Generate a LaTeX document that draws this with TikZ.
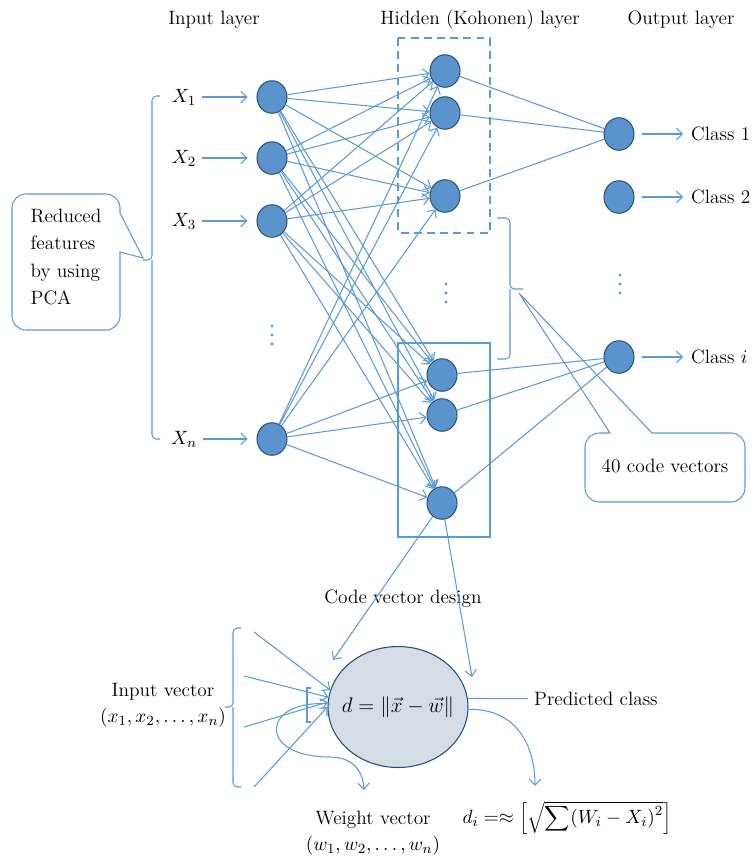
\documentclass[tikz,border=0pt]{standalone}
\usetikzlibrary{arrows.meta,shapes.geometric}
\definecolor{netline}{RGB}{91,155,213}
\definecolor{netfill}{RGB}{91,148,204}
\definecolor{netedge}{RGB}{41,82,125}
\definecolor{ellfill}{RGB}{214,220,229}
\definecolor{elledge}{RGB}{31,78,121}
\begin{document}
\begin{tikzpicture}[x=0.02cm,y=-0.02cm,font=\fontsize{11}{13}\selectfont,
    link/.style={draw=netline,line width=0.6pt},
    arrow line/.style={link,-{Straight Barb[length=3.5pt,width=6.5pt]}},
    neuron/.style={ellipse,draw=netedge,fill=netfill,line width=0.6pt,inner sep=0pt,minimum width=0.6cm,minimum height=0.65cm},
    bracket/.style={link,rounded corners=2.5pt},
    twoline/.style={align=center,font=\fontsize{11}{14.7}\selectfont}]
    \useasboundingbox (0,0) rectangle (751,859);
    \node (lin) at (214,20) {Input layer};
    \node (lhid) at (480,20) {Hidden (Kohonen) layer};
    \node (lout) at (681,20) {Output layer};
    \foreach \n/\y/\t in {1/97/1,2/158/2,3/221/3,4/439/n} {
        \node[neuron] (i\n) at (272,\y) {};
        \node (x\n) at (184,\y) {$X_\t$};
        \draw[arrow line,shorten >=5pt] (x\n) -- (i\n);
    }
    \foreach \n/\x/\y in {1/445/71,2/445/113,3/445/196,4/442/375,5/442/415,6/442/503}
        \node[neuron] (h\n) at (\x,\y) {};
    \foreach \n/\y/\t in {1/134/1,2/197/2,3/357/$i$} {
        \node[neuron] (o\n) at (619,\y) {};
        \node[right] (c\n) at (685,\y) {Class \t};
        \draw[arrow line,shorten <=4pt,shorten >=1pt] (o\n) -- (c\n);
    }
    \foreach \i in {1,...,4}
        \foreach \h in {1,...,6}
            \draw[arrow line] (i\i) -- (h\h);
    \foreach \h in {1,2,3} \draw[link] (h\h) -- (o1);
    \foreach \h in {4,5,6} \draw[link] (h\h) -- (o3);
    \foreach \x/\y in {272/335,446/293,620/284}
        \foreach \d in {-9,0,9}
            \fill[netline] (\x,\y+\d) circle (0.9pt);
    \draw[link,dashed,dash pattern=on 4.5pt off 3pt] (398,38) rectangle (490,233);
    \draw[link] (398,343) rectangle (490,537);
    \draw[bracket] (497,218) -| (510,289) -- (523,289) (510,289) |- (497,359);
    \draw[bracket] (160,96) -| (152,260) -- (143,260) (152,260) |- (160,439);
    \node[align=left,font=\fontsize{11}{15.4}\selectfont] (pca) at (66,257) {Reduced\\features\\by using\\PCA};
    \draw[link,rounded corners=8pt] (120,213) -- (120,194) -- (12,194) -- (12,330) -- (120,330) [sharp corners] -- (120,252) -- (143,258) -- cycle;
    \node (cvec) at (665,466) {40 code vectors};
    \draw[link,rounded corners=8pt] (610,433) -- (585,433) -- (585,502) -- (745,502) -- (745,433) [sharp corners] -- (652,433) -- (519,293) -- cycle;
    \node (cvd) at (403,599) {Code vector design};
    \node[ellipse,draw=elledge,fill=ellfill,line width=0.6pt,inner sep=0pt,minimum width=2.8cm,minimum height=2.42cm] (ell) at (398,707) {};
    \node[font=\fontsize{12}{14}\selectfont] (dist) at (ell) {$d=\|\vec{x}-\vec{w}\|$};
    \coordinate (t1) at (333,660);
    \coordinate (t2) at (472,677);
    \draw[arrow line] (h6) -- (t1);
    \draw[arrow line] (h6) -- (t2);
    \draw[bracket] (241,628) -| (233,707) -- (225,707) (233,707) |- (241,787);
    \node[twoline] (inv) at (163,705) {Input vector\\$(x_1,x_2,\ldots,x_n)$};
    \foreach \n/\sx/\sy/\a in {1/254/632/166,2/244/676/172,3/244/727/176,4/254/787/180} {
        \coordinate (s\n) at (\sx,\sy);
        \draw[arrow line] (s\n) -- (ell.\a);
    }
    \draw[link] (311,688) -- (307,688) -- (307,722) -- (311,722);
    \coordinate (wtip) at (364,790);
    \draw[arrow line] (330,704) .. controls (262,698) and (255,757) .. (330,757) .. controls (352,757) and (363,770) .. (wtip);
    \node[twoline] (wv) at (373,833) {Weight vector\\$(w_1,w_2,\ldots,w_n)$};
    \node[right] (pc) at (528,699) {Predicted class};
    \draw[link] (ell.7) -- (pc);
    \coordinate (dtip) at (535,786);
    \draw[arrow line] (ell.-2) .. controls (512,708) and (535,740) .. (dtip);
    \node (form) at (567,818) {$d_i =\approx \left[\sqrt{\displaystyle\sum (W_i-X_i)^2}\right]$};
\end{tikzpicture}
\end{document}
